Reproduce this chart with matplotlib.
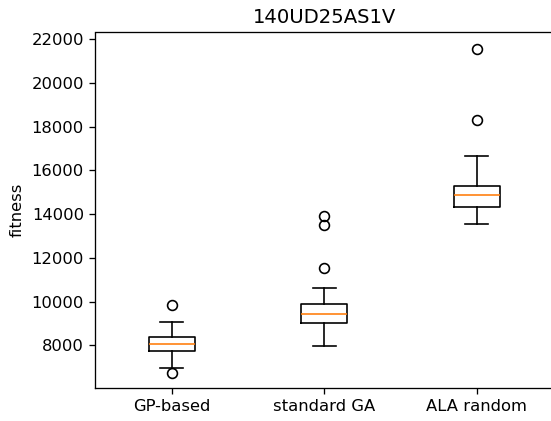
import matplotlib
matplotlib.use('Agg')
import matplotlib.pyplot as plt

# Box statistics
labels = ['GP-based', 'standard GA', 'ALA random']
medians = [8073, 9446, 14876]
q1 = [7753, 9006, 14313]
q3 = [8393, 9889, 15274]
whislo = [6975, 7968, 13536]
whishi = [9052, 10608, 16660]
fliers = [[9830, 6719], [13929, 13504, 11537], [21556, 18307]]

stats = []
for i in range(len(labels)):
    stats.append({'label': labels[i], 'med': medians[i], 'q1': q1[i], 'q3': q3[i],
                  'whislo': whislo[i], 'whishi': whishi[i], 'fliers': fliers[i]})

dpi = 118
fig = plt.figure(figsize=(551 / dpi, 421 / dpi), dpi=dpi)
ax = fig.add_axes([95.4 / 551, 33 / 421, 457.5 / 551, 355.5 / 421])

ax.bxp(stats)
ax.set_ylim(6050, 22310)
ax.set_title('140UD25AS1V')
ax.set_ylabel('fitness')

fig.savefig('out.png', dpi=dpi)
